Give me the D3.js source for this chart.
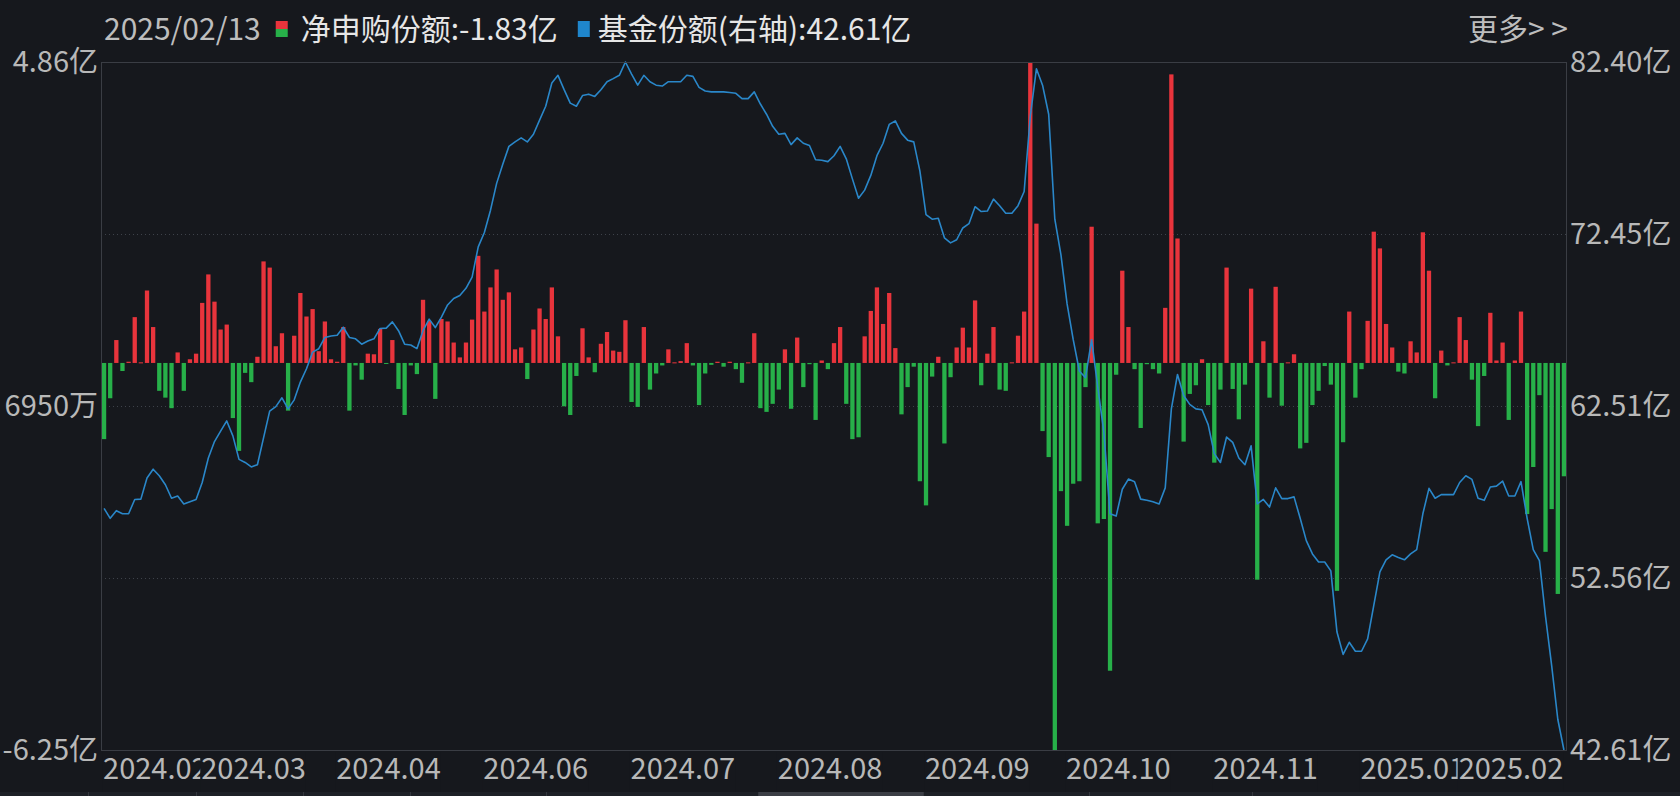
<!DOCTYPE html>
<html><head><meta charset="utf-8">
<script src="https://cdn.jsdelivr.net/npm/d3@7"></script>
<style>
html,body{margin:0;padding:0;background:#16181d;overflow:hidden;}
svg{display:block;}
text{font-family:"Noto Sans CJK SC","Microsoft YaHei",sans-serif;}
</style></head><body>
<svg id="chart" width="1680" height="796"></svg>
<script>
// ---------------- data ----------------
const lastDate = "2025/02/13";
const seriesNames = ["净申购份额", "基金份额(右轴)"];
const lastNet = "-1.83亿";
const lastShare = "42.61亿";
const moreLabel = "更多> >";

// 净申购份额 (亿), one value per trading day
const netSub = [
 -1.23,-0.57,0.37,-0.13,0.02,0.74,0.01,1.17,0.58,-0.45,
 -0.56,-0.73,0.17,-0.45,0.06,0.15,0.97,1.43,0.99,0.54,
 0.62,-0.89,-1.42,-0.16,-0.31,0.10,1.64,1.54,0.27,0.48,
 -0.77,0.44,1.13,0.75,0.87,0.19,0.67,0.06,0.02,0.58,
 -0.77,-0.04,-0.27,0.15,0.14,0.55,-0.01,0.37,-0.42,-0.84,
 -0.04,-0.18,1.02,0.68,-0.58,0.71,0.67,0.33,0.09,0.33,
 0.70,1.73,0.83,1.22,1.51,1.02,1.14,0.22,0.25,-0.26,
 0.54,0.88,0.71,1.22,0.43,-0.70,-0.84,-0.21,0.56,0.09,
 -0.15,0.31,0.50,0.20,0.18,0.69,-0.63,-0.71,0.58,-0.43,
 -0.17,-0.04,0.22,0.01,0.03,0.32,-0.04,-0.68,-0.17,-0.03,
 0.02,-0.06,0.02,-0.10,-0.32,0.01,0.48,-0.73,-0.79,-0.66,
 -0.43,0.22,-0.74,0.41,-0.39,-0.02,-0.92,0.04,-0.10,0.32,
 0.58,-0.66,-1.23,-1.20,0.43,0.84,1.22,0.63,1.13,0.24,
 -0.83,-0.39,-0.06,-1.91,-2.30,-0.22,0.10,-1.30,-0.23,0.25,
 0.57,0.25,1.01,-0.36,0.15,0.58,-0.43,-0.45,0.01,0.44,
 0.83,4.86,2.25,-1.10,-1.52,-6.25,-2.07,-2.63,-1.95,-1.91,
 -0.39,2.20,-2.59,-2.52,-4.97,-0.19,1.49,0.58,-0.10,-1.05,
 -0.02,-0.10,-0.17,0.89,4.66,2.01,-1.27,-0.50,-0.36,0.06,
 -0.68,-1.61,-0.43,1.54,-0.42,-0.91,-0.35,1.20,-3.50,0.35,
 -0.56,1.23,-0.69,0.01,0.14,-1.38,-1.29,-0.68,-0.45,-0.05,
 -0.35,-3.68,-1.28,0.83,-0.56,-0.10,0.68,2.12,1.85,0.63,
 0.25,-0.14,-0.17,0.35,0.17,2.11,1.49,-0.57,0.20,-0.04,
 0.01,0.74,0.37,-0.27,-1.02,-0.21,0.81,0.04,0.33,-0.92,
 0.04,0.83,-2.44,-1.68,-0.52,-3.05,-2.36,-3.73,-1.83
];

// 基金份额 (亿份), right axis
const fundShare = [
 56.58,56.01,56.45,56.27,56.27,57.10,57.12,58.34,58.85,58.47,
 57.95,57.17,57.30,56.84,56.97,57.10,58.08,59.50,60.45,61.05,
 61.64,60.78,59.42,59.24,58.98,59.11,60.66,62.21,62.47,62.98,
 62.34,62.86,63.89,64.66,65.62,65.82,66.47,66.55,66.60,67.06,
 66.47,66.39,66.08,66.26,66.39,66.99,67.01,67.37,66.86,66.08,
 66.03,65.82,66.86,67.53,67.04,67.65,68.35,68.72,68.90,69.31,
 69.96,71.71,72.54,73.83,75.38,76.49,77.52,77.78,78.01,77.78,
 78.22,79.04,79.84,81.19,81.63,80.80,80.02,79.84,80.46,80.54,
 80.41,80.80,81.26,81.44,81.63,82.40,81.70,81.06,81.63,81.26,
 81.06,81.01,81.26,81.26,81.26,81.63,81.57,80.93,80.72,80.67,
 80.67,80.67,80.64,80.59,80.28,80.28,80.67,79.97,79.38,78.68,
 78.22,78.27,77.62,78.01,77.70,77.57,76.75,76.72,76.64,76.98,
 77.52,76.80,75.64,74.52,74.99,75.84,76.98,77.70,78.79,78.99,
 78.27,77.88,77.78,76.10,73.57,73.31,73.36,72.23,71.94,72.12,
 72.80,73.05,74.03,73.75,73.78,74.47,74.09,73.65,73.65,74.09,
 74.91,79.25,82.01,81.06,79.38,73.31,71.25,68.41,66.34,64.53,
 64.14,66.34,63.60,61.00,56.27,56.14,57.69,58.28,58.13,57.12,
 57.05,56.97,56.84,57.77,62.34,64.33,63.11,62.60,62.34,62.29,
 61.43,59.75,59.24,60.71,60.40,59.50,59.11,60.20,56.84,57.10,
 56.66,57.77,57.15,57.15,57.25,56.01,54.72,53.95,53.48,53.48,
 52.97,49.43,48.14,48.84,48.32,48.32,49.04,50.98,52.91,53.61,
 53.90,53.74,53.61,53.95,54.20,56.27,57.74,57.17,57.38,57.38,
 57.38,58.08,58.47,58.26,57.17,57.05,57.82,57.87,58.16,57.30,
 57.30,58.13,56.01,54.20,53.56,50.33,47.49,44.39,42.61
];

const xTickLabels = ["2024.02","2024.03","2024.04","2024.06","2024.07","2024.08","2024.09","2024.10","2024.11","2025.01","2025.02"];
const xTickIndex  = [0,16,38,62,86,110,134,157,181,205,221];

const leftTickValues = [4.86, -0.695, -6.25];
const leftTickLabels = ["4.86亿", "6950万", "-6.25亿"];
const rightTickValues = [82.40, 72.45, 62.51, 52.56, 42.61];
const rightTickLabels = ["82.40亿", "72.45亿", "62.51亿", "52.56亿", "42.61亿"];

// ---------------- layout / style ----------------
const W = 1680, H = 796;
const plot = {left: 101, right: 1567, top: 62, bottom: 750};
const C = {
  bg: "#16181d", frame: "#3a3d44", grid: "#3e424a",
  red: "#e8343c", green: "#27b049", line: "#2a87c9",
  axisText: "#b8b8b8", legendText: "#e6e6e6", dateText: "#bdbdbd"
};
const AXIS_FONT = 29, LEGEND_FONT = 30;

const svg = d3.select("#chart");
svg.append("rect").attr("width", W).attr("height", H).attr("fill", C.bg);

const idx = d3.range(netSub.length);
const x = d3.scaleBand().domain(idx).range([plot.left, plot.right]).paddingInner(0.3).paddingOuter(0.15);
const yL = d3.scaleLinear().domain([d3.min(netSub), d3.max(netSub)]).range([plot.bottom, plot.top]);
const yR = d3.scaleLinear().domain([d3.min(fundShare), d3.max(fundShare)]).range([plot.bottom, plot.top]);

// grid (dotted, at inner right-axis ticks)
svg.append("g").selectAll("line").data(rightTickValues.slice(1, -1)).join("line")
  .attr("x1", plot.left).attr("x2", plot.right)
  .attr("y1", d => Math.round(yR(d)) + 0.5).attr("y2", d => Math.round(yR(d)) + 0.5)
  .attr("stroke", C.grid).attr("stroke-width", 1).attr("stroke-dasharray", "1,3");

// bars
const y0 = yL(0);
svg.append("g").selectAll("rect").data(netSub).join("rect")
  .attr("x", (d, i) => x(i))
  .attr("width", x.bandwidth())
  .attr("y", d => d >= 0 ? yL(d) : y0)
  .attr("height", d => Math.max(1, Math.abs(yL(d) - y0)))
  .attr("fill", d => d >= 0 ? C.red : C.green);

// line
svg.append("clipPath").attr("id", "clip").append("rect")
  .attr("x", plot.left).attr("y", plot.top - 1).attr("width", plot.right - plot.left).attr("height", plot.bottom - plot.top + 2);
svg.append("path").datum(fundShare)
  .attr("clip-path", "url(#clip)")
  .attr("fill", "none").attr("stroke", C.line).attr("stroke-width", 1.6)
  .attr("stroke-linejoin", "round")
  .attr("d", d3.line().x((d, i) => x(i) + x.bandwidth() / 2).y(d => yR(d)));

// frame
svg.append("rect").attr("x", plot.left + 0.5).attr("y", plot.top + 0.5)
  .attr("width", plot.right - plot.left - 1).attr("height", plot.bottom - plot.top)
  .attr("fill", "none").attr("stroke", C.frame).attr("stroke-width", 1);

// left axis labels
svg.append("g").selectAll("text").data(leftTickValues).join("text")
  .attr("x", plot.left - 3).attr("y", d => yL(d))
  .attr("dy", "0.35em").attr("text-anchor", "end")
  .attr("font-size", AXIS_FONT).attr("fill", C.axisText)
  .text((d, i) => leftTickLabels[i]);

// right axis labels
svg.append("g").selectAll("text").data(rightTickValues).join("text")
  .attr("x", plot.right + 3).attr("y", d => yR(d))
  .attr("dy", "0.35em").attr("text-anchor", "start")
  .attr("font-size", AXIS_FONT).attr("fill", C.axisText)
  .text((d, i) => rightTickLabels[i]);

// x labels: each drawn on an opaque box so a later label covers an earlier one
const xl = svg.append("g");
xTickIndex.forEach((d, i) => {
  const gx = x(d) + x.bandwidth() / 2 - 1;
  const bg = xl.append("rect").attr("fill", C.bg);
  const t = xl.append("text").attr("x", gx).attr("y", plot.bottom + 19)
    .attr("dy", "0.35em").attr("text-anchor", "start")
    .attr("font-size", AXIS_FONT).attr("fill", C.axisText)
    .text(xTickLabels[i]);
  const b = t.node().getBBox();
  bg.attr("x", b.x - 1).attr("y", plot.bottom + 2).attr("width", b.width + 1).attr("height", b.height);
});

// legend
const lg = svg.append("g");
const t0 = lg.append("text").attr("x", 104).attr("y", 29).attr("dy", "0.35em")
  .attr("font-size", LEGEND_FONT).attr("fill", C.dateText).text(lastDate);
let cx = 104 + t0.node().getComputedTextLength() + 15;
lg.append("rect").attr("x", cx).attr("y", 21).attr("width", 12).attr("height", 8).attr("fill", C.red);
lg.append("rect").attr("x", cx).attr("y", 29).attr("width", 12).attr("height", 8).attr("fill", C.green);
cx += 25;
const t1 = lg.append("text").attr("x", cx).attr("y", 29).attr("dy", "0.35em")
  .attr("font-size", LEGEND_FONT).attr("fill", C.legendText).text(seriesNames[0] + ":" + lastNet);
cx += t1.node().getComputedTextLength() + 20;
lg.append("rect").attr("x", cx).attr("y", 21).attr("width", 12).attr("height", 16).attr("fill", "#1f86cc");
cx += 20;
lg.append("text").attr("x", cx).attr("y", 29).attr("dy", "0.35em")
  .attr("font-size", LEGEND_FONT).attr("fill", C.legendText).text(seriesNames[1] + ":" + lastShare);
lg.append("text").attr("x", 1468).attr("y", 29).attr("dy", "0.35em")
  .attr("font-size", LEGEND_FONT).attr("fill", C.dateText).text(moreLabel);

// bottom tab strip
const tabEdges = [0, 88, 196, 303, 410, 546, 758, 923, 1089, 1252, 1680];
const strip = svg.append("g");
strip.append("rect").attr("x", 0).attr("y", 792).attr("width", W).attr("height", 4).attr("fill", "#1d2026");
strip.append("rect").attr("x", tabEdges[6]).attr("y", 792).attr("width", tabEdges[7] - tabEdges[6]).attr("height", 4).attr("fill", "#3b3e45");
strip.selectAll("line.sep").data(tabEdges.slice(1, -1)).join("line")
  .attr("x1", d => d + 0.5).attr("x2", d => d + 0.5).attr("y1", 792).attr("y2", 796)
  .attr("stroke", "#33363d");
</script>
</body></html>
